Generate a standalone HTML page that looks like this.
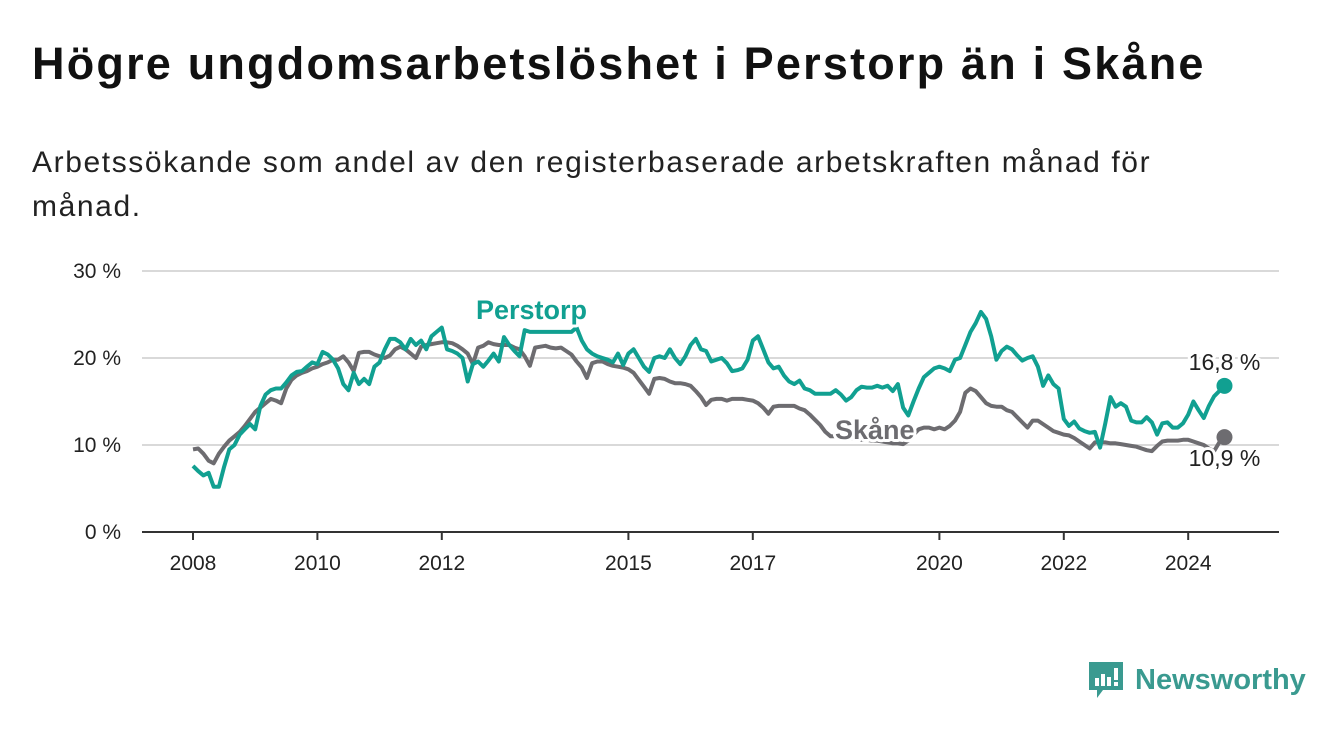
<!DOCTYPE html>
<html><head><meta charset="utf-8">
<style>
body{margin:0;width:1340px;height:734px;background:#fff;font-family:"Liberation Sans",sans-serif;overflow:hidden;position:relative}
h1{position:absolute;left:32px;top:38px;margin:0;font-size:45px;font-weight:bold;color:#111;letter-spacing:2.2px;white-space:nowrap}
.sub{position:absolute;left:32px;top:141px;width:1300px;font-size:30px;line-height:44px;color:#222;letter-spacing:1.6px;white-space:nowrap}
svg{position:absolute;left:0;top:0}
.logo{position:absolute;left:1089px;top:660px;display:flex;align-items:center}
.logo span{font-size:29px;color:#3a9a90;margin-left:10px;font-weight:bold;letter-spacing:0}
</style></head><body>
<h1>Högre ungdomsarbetslöshet i Perstorp än i Skåne</h1>
<div class="sub">Arbetssökande som andel av den registerbaserade arbetskraften månad för<br>månad.</div>
<svg id="chart" width="1340" height="734"></svg>
<div class="logo">
<svg width="36" height="40" viewBox="0 0 36 40" style="position:static"><path d="M0 2h34v28H14l-6 8v-8H0z" fill="#3a9a90"/><rect x="6" y="18" width="4" height="8" fill="#fff"/><rect x="12" y="14" width="4" height="12" fill="#fff"/><rect x="18" y="17" width="4" height="9" fill="#fff"/><rect x="25" y="8" width="4" height="12" fill="#fff"/><rect x="25" y="22" width="4" height="4" fill="#fff"/></svg>
<span>Newsworthy</span></div>
<script>
const yTicks=[0,10,20,30];
const xTickYears=[2008,2010,2012,2015,2017,2020,2022,2024];
const startYear=2008;
const skane=[9.5,9.6,9.0,8.2,7.9,9,9.8,10.5,11,11.5,12.2,13,
13.8,14.3,14.8,15.3,15.1,14.8,16.5,17.5,18,18.3,18.5,18.8,
19.0,19.3,19.5,19.8,19.8,20.2,19.5,18.5,20.6,20.7,20.7,20.4,
20.2,20,20.3,21,21.3,21,20.5,20,21.3,21.5,21.6,21.7,
21.8,21.8,21.7,21.4,21.0,20.5,19.3,21.2,21.4,21.8,21.6,21.5,
21.5,21.5,21.2,21.0,20.2,19.1,21.2,21.3,21.4,21.2,21.1,21.2,
20.8,20.4,19.6,18.9,17.7,19.4,19.6,19.6,19.3,19.1,19.0,18.9,
18.7,18.3,17.5,16.7,15.9,17.6,17.7,17.6,17.3,17.1,17.1,17.0,
16.8,16.2,15.5,14.6,15.2,15.3,15.3,15.1,15.3,15.3,15.3,15.2,
15.1,14.8,14.3,13.6,14.4,14.5,14.5,14.5,14.5,14.2,14.0,13.5,
12.9,12.3,11.5,11.0,11,11,10.8,10.8,10.7,10.6,10.6,10.5,
10.5,10.4,10.3,10.2,10.2,10.1,10.5,11.2,11.8,12.0,12.0,11.8,
12.0,11.8,12.2,12.8,13.8,16.0,16.5,16.2,15.5,14.8,14.5,14.4,
14.4,14.0,13.8,13.2,12.6,12.0,12.8,12.8,12.4,12.0,11.6,11.4,
11.2,11.1,10.8,10.4,10.0,9.6,10.3,10.3,10.3,10.2,10.2,10.1,
10.0,9.9,9.8,9.6,9.4,9.3,9.9,10.4,10.5,10.5,10.5,10.6,
10.6,10.4,10.2,10.0,9.6,9.3,10.3,10.9];
const perstorp=[7.6,7.0,6.5,6.8,5.2,5.2,7.5,9.5,10.0,11.2,11.8,12.4,
11.8,14.5,15.8,16.3,16.5,16.5,17.2,18.0,18.4,18.5,19.0,19.5,
19.3,20.7,20.4,19.8,18.8,17.0,16.3,18.3,17.0,17.6,17.0,19.0,
19.5,21.0,22.2,22.2,21.8,21.0,22.2,21.5,22.0,21.0,22.5,23.0,
23.5,21.0,20.8,20.5,20.0,17.3,19.3,19.6,19.0,19.7,20.5,19.6,
22.4,21.5,20.8,20.2,23.2,23,23,23,23,23,23,23,
23,23,23.5,22.0,21.0,20.5,20.2,20.0,19.8,19.5,20.5,19.2,
20.5,21,20,19,18.4,20.0,20.2,20.0,21.0,20.0,19.3,20.2,
21.5,22.2,21.0,20.8,19.6,19.8,20.0,19.4,18.5,18.6,18.8,19.8,
22.0,22.5,21.0,19.5,18.8,19.0,18.0,17.3,17.0,17.4,16.5,16.3,
15.9,15.9,15.9,15.9,16.3,15.8,15.1,15.5,16.3,16.7,16.6,16.6,
16.8,16.6,16.8,16.2,17.0,14.3,13.4,15.0,16.5,17.8,18.3,18.8,
19.0,18.8,18.5,19.8,20.0,21.5,23.0,24.0,25.3,24.5,22.5,19.8,
20.8,21.3,21.0,20.3,19.7,20.0,20.2,19.0,16.8,18.0,17.0,16.5,
13.0,12.2,12.7,11.9,11.6,11.4,11.5,9.7,12.5,15.5,14.4,14.8,
14.4,12.8,12.6,12.6,13.2,12.6,11.2,12.5,12.6,12.0,12.0,12.5,
13.5,15.0,14.0,13.1,14.5,15.6,16.2,16.8];
const NS="http://www.w3.org/2000/svg";
const svg=document.getElementById('chart');
const x0=193,pxYear=62.2,y0=532,pxPct=8.7;
const xs=i=>x0+(i/12)*pxYear;
const xy=yr=>x0+(yr-startYear)*pxYear;
const ys=v=>y0-v*pxPct;
function el(t,a,p){const e=document.createElementNS(NS,t);for(const k in a)e.setAttribute(k,a[k]);(p||svg).appendChild(e);return e;}
yTicks.forEach(v=>{
 if(v>0){const g=el('line',{x1:142,x2:1279,y1:ys(v),y2:ys(v),stroke:'#d9d9d9','stroke-width':2});
 
 }
 const t=el('text',{x:121,y:ys(v)+7,'text-anchor':'end','font-size':21,fill:'#222'});
 t.textContent=v+' %';
 
 
});
const ax=el('line',{x1:142,x2:1279,y1:y0,y2:y0,stroke:'#333','stroke-width':2});


xTickYears.forEach(yr=>{
 const x=xy(yr);
 el('line',{x1:x,x2:x,y1:y0,y2:y0+8,stroke:'#333','stroke-width':2});
 const t=el('text',{x:x,y:570,'text-anchor':'middle','font-size':21,fill:'#222'});
 t.textContent=yr;
 
 
});
function line(data,color,name){
 const p=el('path',{d:data.map((v,i)=>(i?'L':'M')+xs(i).toFixed(1)+' '+ys(v).toFixed(1)).join(''),fill:'none',stroke:color,'stroke-width':4,'stroke-linejoin':'round'});
 
 
 const n=data.length-1;
 const c=el('circle',{cx:xs(n),cy:ys(data[n]),r:8,fill:color});
 
 
}
line(skane,'#6d6c70','skane-line');
line(perstorp,'#11a091','perstorp-line');
function label(txt,x,y,color,bold,name,anchor){
 const a={x:x,y:y,'font-size':bold?27:23,'font-weight':bold?'bold':'normal',fill:color,'text-anchor':anchor||'start',stroke:'#fff','stroke-width':6,'paint-order':'stroke','stroke-linejoin':'round'};
 const t=el('text',a);t.textContent=txt;
 
 
}
label('Perstorp',476,319,'#11a091',true,'perstorp-label');
label('Skåne',835,439,'#6d6c70',true,'skane-label');
const n=perstorp.length-1;
label(String(perstorp[n]).replace('.',',')+' %',xs(n),370,'#222',false,'perstorp-end-value','middle');
label(String(skane[n]).replace('.',',')+' %',xs(skane.length-1),466,'#222',false,'skane-end-value','middle');
</script>
</body></html>
